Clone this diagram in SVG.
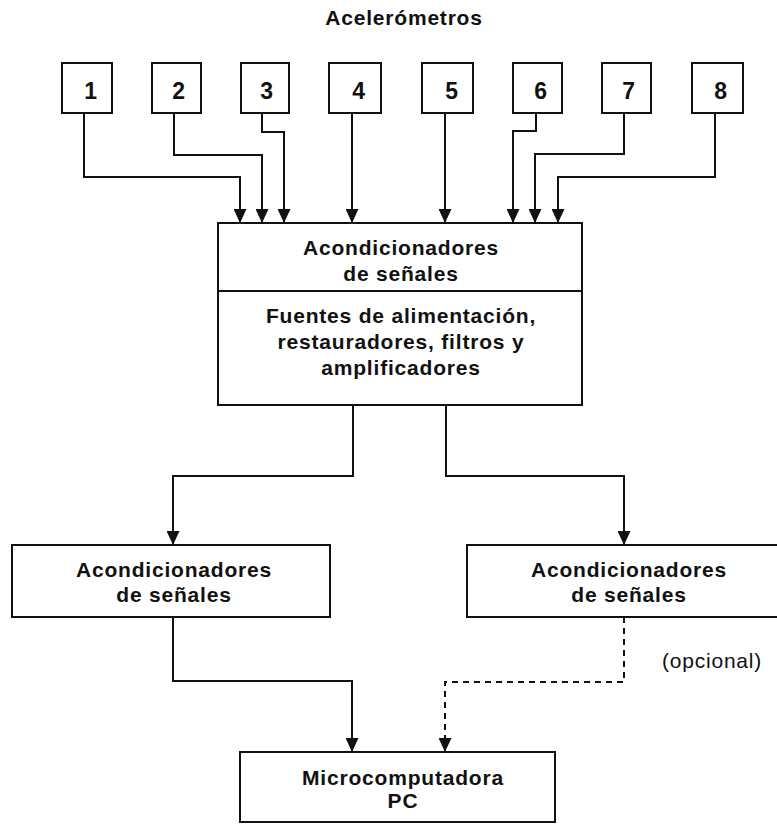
<svg xmlns="http://www.w3.org/2000/svg" width="777" height="824" viewBox="0 0 777 824">
<style>
rect{fill:#fff;stroke:#111;stroke-width:2}
.t{font-family:"Liberation Sans",Arial,sans-serif;font-weight:bold;font-size:21px;letter-spacing:0.8px;text-anchor:middle;fill:#111}
.n{font-size:23px}
.r{font-family:"Liberation Sans",Arial,sans-serif;font-size:21px;letter-spacing:0.8px;text-anchor:middle;fill:#111}
.c{fill:none;stroke:#111;stroke-width:2}
.d{stroke-dasharray:6 5}
</style>
<defs>
<marker id="ah" markerUnits="userSpaceOnUse" markerWidth="14" markerHeight="13" refX="14" refY="6.5" orient="auto" viewBox="0 0 14 13">
<path d="M0 0 L14 6.5 L0 13 Z" fill="#111"/>
</marker>
</defs>
<text class="t" x="404" y="25">Acelerómetros</text>
<g id="n1"><rect x="62" y="63" width="50" height="50"/><text class="t n" x="91" y="99">1</text></g>
<g id="n2"><rect x="152" y="63" width="49" height="50"/><text class="t n" x="179" y="99">2</text></g>
<g id="n3"><rect x="241" y="63" width="48" height="50"/><text class="t n" x="267" y="99">3</text></g>
<g id="n4"><rect x="329" y="63" width="52" height="50"/><text class="t n" x="359" y="99">4</text></g>
<g id="n5"><rect x="422" y="63" width="51" height="50"/><text class="t n" x="452" y="99">5</text></g>
<g id="n6"><rect x="513" y="63" width="49" height="50"/><text class="t n" x="541" y="99">6</text></g>
<g id="n7"><rect x="602" y="63" width="49" height="50"/><text class="t n" x="629" y="99">7</text></g>
<g id="n8"><rect x="692" y="63" width="51" height="50"/><text class="t n" x="721" y="99">8</text></g>
<g id="main">
<rect x="218" y="223" width="364" height="182"/>
<line x1="218" y1="291" x2="582" y2="291" class="c"/>
<text class="t" x="401" y="255">Acondicionadores</text>
<text class="t" x="401" y="281">de señales</text>
<text class="t" x="401" y="323">Fuentes de alimentación,</text>
<text class="t" x="401" y="349">restauradores, filtros y</text>
<text class="t" x="401" y="375">amplificadores</text>
</g>
<g id="left">
<rect x="12" y="545" width="318" height="72"/>
<text class="t" x="174" y="577">Acondicionadores</text>
<text class="t" x="174" y="602">de señales</text>
</g>
<g id="right">
<rect x="467" y="545" width="330" height="72"/>
<text class="t" x="629" y="577">Acondicionadores</text>
<text class="t" x="629" y="602">de señales</text>
</g>
<g id="pc">
<rect x="240" y="752" width="315" height="70"/>
<text class="t" x="403" y="785">Microcomputadora</text>
<text class="t" x="403" y="808">PC</text>
</g>
<text class="r" x="712" y="668">(opcional)</text>
<g id="connectors">
<path class="c" marker-end="url(#ah)" d="M84 113 V177 H240 V223"/>
<path class="c" marker-end="url(#ah)" d="M174 113 V155 H262 V223"/>
<path class="c" marker-end="url(#ah)" d="M262 113 V132 H284 V223"/>
<path class="c" marker-end="url(#ah)" d="M352 113 V223"/>
<path class="c" marker-end="url(#ah)" d="M445 113 V223"/>
<path class="c" marker-end="url(#ah)" d="M536 113 V131 H513 V223"/>
<path class="c" marker-end="url(#ah)" d="M624 113 V154 H535 V223"/>
<path class="c" marker-end="url(#ah)" d="M715 113 V177 H558 V223"/>
<path class="c" marker-end="url(#ah)" d="M353 405 V476 H173 V545"/>
<path class="c" marker-end="url(#ah)" d="M446 405 V476 H624 V545"/>
<path class="c" marker-end="url(#ah)" d="M173 617 V681 H352 V752"/>
<path class="c d" marker-end="url(#ah)" d="M624 617 V682 H445 V752"/>
</g>
</svg>
